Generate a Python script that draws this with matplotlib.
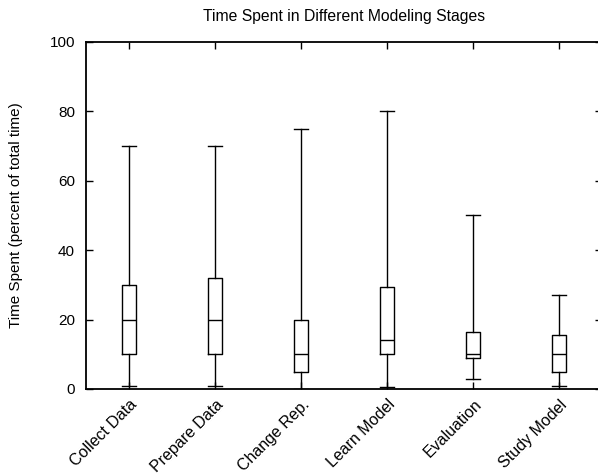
import matplotlib.pyplot as plt
import matplotlib.transforms as mtransforms

plt.rcParams['font.family'] = ['Liberation Sans', 'DejaVu Sans']

stages = ['Collect Data', 'Prepare Data', 'Change Rep.', 'Learn Model',
          'Evaluation', 'Study Model']
whislo = [1, 1, 0, 0.5, 3, 1]
q1 = [10, 10, 5, 10, 9, 5]
med = [20, 20, 10, 14, 10, 10]
q3 = [30, 32, 20, 29.5, 16.5, 15.5]
whishi = [70, 70, 75, 80, 50, 27]
yticks = [0, 20, 40, 60, 80, 100]

stats = []
for i in range(len(stages)):
    stats.append(dict(label=stages[i], whislo=whislo[i], q1=q1[i], med=med[i],
                      q3=q3[i], whishi=whishi[i], fliers=[]))

fig = plt.figure(figsize=(5.98, 4.74), dpi=100)
# right border sits just past the canvas edge, like the original
ax = fig.add_axes([86/598, 85/474, 516/598, 347/474])

pos = list(range(1, len(stages) + 1))
line = dict(color='black', linewidth=1.0)
ax.bxp(stats, positions=pos, widths=0.17, capwidths=0.16, showfliers=False,
       boxprops=line, whiskerprops=line, capprops=line, medianprops=line)

ax.set_xlim(0.5, 6.5)
ax.set_ylim(0, 100)
ax.set_yticks(yticks)
ax.set_xticks(pos)

ax.tick_params(axis='both', direction='in', length=5, width=1.0,
               top=True, right=True, labelsize=11)
ax.tick_params(axis='y', pad=8)
ax.tick_params(axis='x', pad=6, labelsize=11.5)
for s in ax.spines.values():
    s.set_linewidth(1.3)

ax.set_xticklabels(stages, rotation=45, ha='right', va='center',
                   rotation_mode='anchor', fontsize=11.5)
# nudge rotated labels after tick_params, otherwise it gets reset
offset = mtransforms.ScaledTranslation(6/100, -5/100, fig.dpi_scale_trans)
for lab in ax.get_xticklabels():
    lab.set_transform(lab.get_transform() + offset)

ax.set_ylabel('Time Spent (percent of total time)', fontsize=11)
ax.yaxis.set_label_coords(-0.122, 0.5)
ax.set_title('Time Spent in Different Modeling Stages', fontsize=11.3, pad=15)

fig.savefig('out.png', dpi=100)
